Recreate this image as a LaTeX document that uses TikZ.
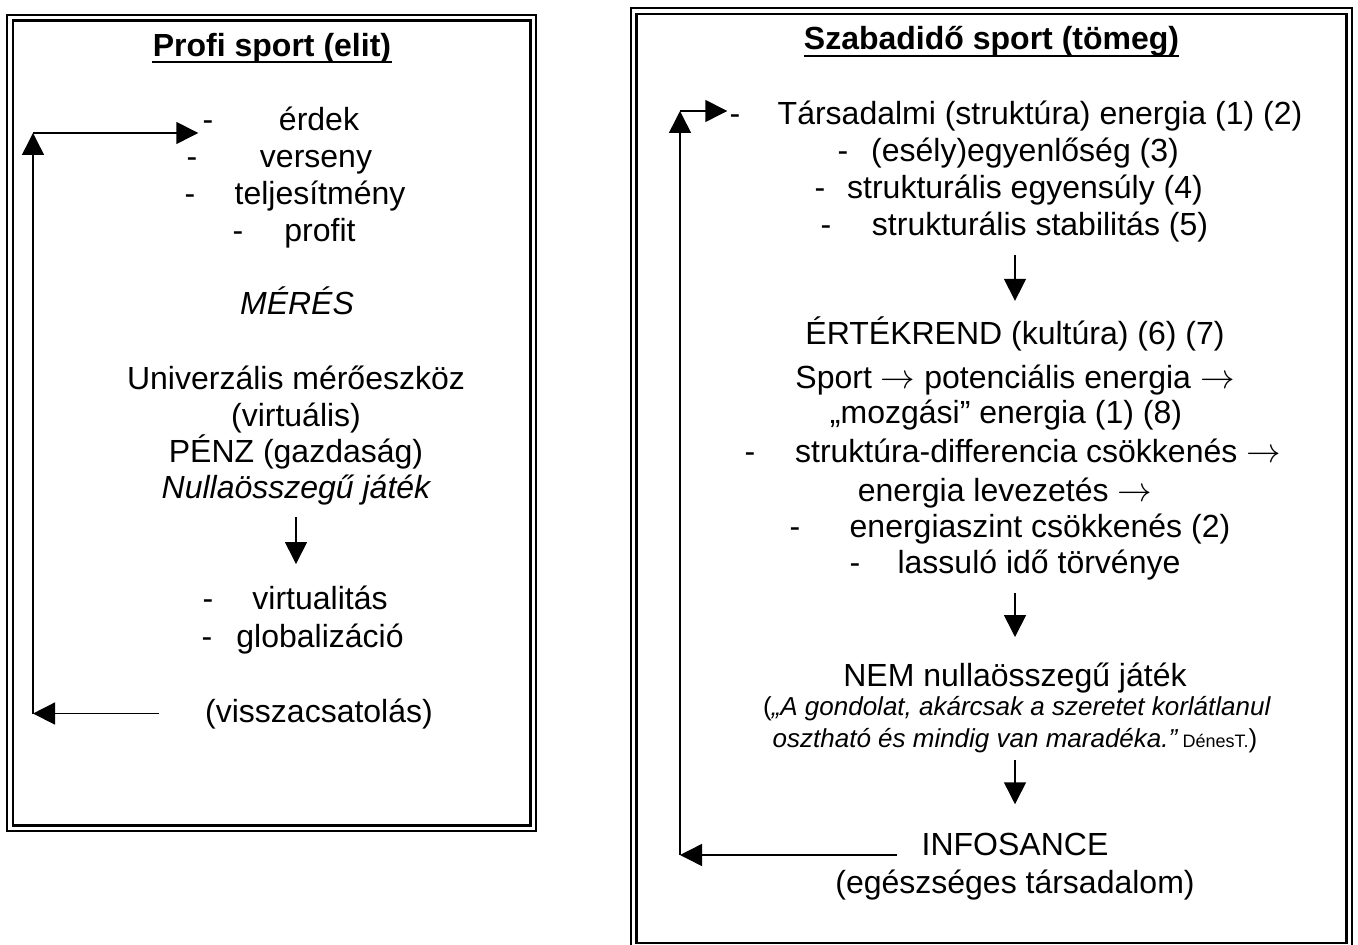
\documentclass[tikz,border=0pt]{standalone}
\usepackage{fontspec}
\setmainfont{Liberation Sans}
\usetikzlibrary{arrows.meta}

\begin{document}
\begin{tikzpicture}[x=0.5pt,y=-0.5pt,>={Triangle[length=11pt,width=11pt]},
    txt/.style={anchor=base,inner sep=0pt,font=\fontsize{16}{18}\selectfont},
    txti/.style={txt,font=\fontsize{16}{18}\selectfont\itshape},
    ttl/.style={txt,font=\fontsize{16}{18}\selectfont\bfseries},
    qt/.style={anchor=base,inner sep=0pt,font=\fontsize{13}{15}\selectfont},
    arr/.style={->,line width=0.75pt},
    frameout/.style={line width=1pt},
    framein/.style={line width=1.25pt}]
\useasboundingbox (0,0) rectangle (1358,945);
\clip (0,0) rectangle (1358,945);

% frames
\draw[frameout] (7,15) rectangle (536,831);
\draw[framein] (13,20.5) rectangle (530.5,825.5);
\draw[frameout] (631,8) rectangle (1351.5,960);
\draw[framein] (636.5,14) rectangle (1346.5,943);

% left box: profi sport
\node[ttl] (lttl) at (272,57) {Profi sport (elit)};
\draw[line width=1.25pt] ([yshift=-2.5pt]lttl.base west) -- ([yshift=-2.5pt]lttl.base east);
\foreach \d/\c/\y/\t [count=\i] in {208/319/131/érdek, 192/316/168/verseny,
    190/320/205/teljesítmény, 238/320/242/profit,
    208/320/610/virtualitás, 207/320/647/globalizáció} {
  \node[txt] (ld\i) at (\d,\y) {-};
  \node[txt] (li\i) at (\c,\y) {\t};
}
\node[txti] (meres) at (297,315) {MÉRÉS};
\node[txt] (univ) at (296,390) {Univerzális mérőeszköz};
\node[txt] (virt) at (296,427) {(virtuális)};
\node[txt] (penz) at (296,463) {PÉNZ (gazdaság)};
\node[txti] (nulla) at (296,499) {Nullaösszegű játék};
\node[txt] (viss) at (319,722) {(visszacsatolás)};

\draw[arr,shorten <=5.5pt,shorten >=11pt] (nulla.south) -- (nulla.south |- li5.north);

% feedback, left
\coordinate (lcorner) at (33,133);
\draw[arr,shorten <=23pt] (viss.west) -- (viss.west -| lcorner);
\draw[arr] (viss.west -| lcorner) -- (lcorner);
\draw[arr,shorten >=2pt] (lcorner) -- (lcorner -| ld1.west);

% right box: szabadido sport
\node[ttl] (rttl) at (991.5,50) {Szabadidő sport (tömeg)};
\draw[line width=1.25pt] ([yshift=-3pt]rttl.base west) -- ([yshift=-3pt]rttl.base east);
\foreach \d/\c/\y/\t [count=\i] in {735/1040/125/Társadalmi (struktúra) energia (1) (2),
    843/1025/162/(esély)egyenlőség (3),
    820/1025/199/strukturális egyensúly (4),
    826/1040/236/strukturális stabilitás (5),
    750/1038/463/struktúra-differencia csökkenés $\rightarrow$,
    795/1040/538/energiaszint csökkenés (2),
    855/1039/574/lassuló idő törvénye} {
  \node[txt] (rd\i) at (\d,\y) {-};
  \node[txt] (ri\i) at (\c,\y) {\t};
}
\node[txt] (erte) at (1015,345) {ÉRTÉKREND (kultúra) (6) (7)};
\node[txt] (sport) at (1015,389) {Sport $\rightarrow$ potenciális energia $\rightarrow$};
\node[txt] (mozg) at (1006,424) {„mozgási” energia (1) (8)};
\node[txt] (lev) at (1005,502) {energia levezetés $\rightarrow$};
\node[txt] (nem) at (1015,686) {NEM nullaösszegű játék};
\node[qt] (q1) at (1017,715) {(\textit{„A gondolat, akárcsak a szeretet korlátlanul}};
\node[qt] (q2) at (1015,747) {\textit{osztható és mindig van maradéka.”}\,{\fontsize{9}{10}\selectfont DénesT.})};
\node[txt] (info) at (1015,855) {INFOSANCE};
\node[txt] (egesz) at (1015,893) {(egészséges társadalom)};

\draw[arr,shorten <=6pt,shorten >=8pt] (ri4.south -| erte.north) -- (erte.north);
\draw[arr,shorten <=6pt,shorten >=12.5pt] (ri7.south -| nem.north) -- (nem.north);
\draw[arr,shorten <=3.5pt,shorten >=14pt] (q2.south -| info.north) -- (info.north);

% feedback, right
\coordinate (rcorner) at (680,111);
\draw[arr,shorten <=12pt] (info.base west) -- (info.base west -| rcorner);
\draw[arr] (info.base west -| rcorner) -- (rcorner);
\draw[arr,shorten >=1pt] (rcorner) -- (rcorner -| rd1.west);
\end{tikzpicture}
\end{document}
